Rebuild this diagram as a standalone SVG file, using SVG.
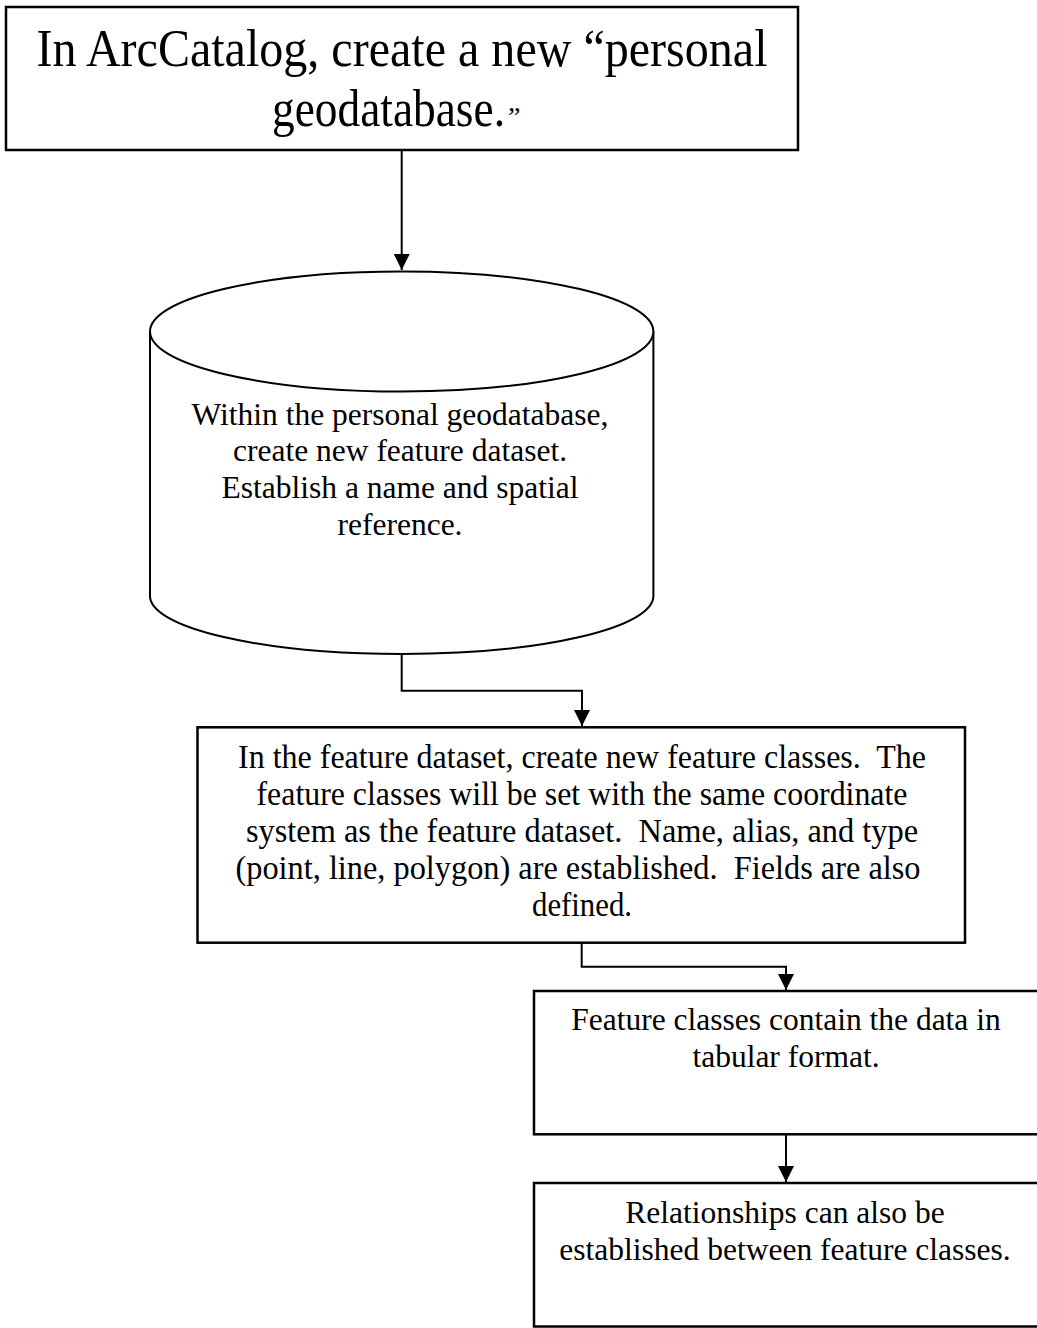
<svg xmlns="http://www.w3.org/2000/svg" width="1037" height="1328" viewBox="0 0 1037 1328">
<style>
.box{fill:#fff;stroke:#000;stroke-width:2.5}
.cyl{fill:#fff;stroke:#000;stroke-width:2}
.conn{fill:none;stroke:#000;stroke-width:2}
text{font-family:"Liberation Serif","Times New Roman",serif;fill:#000;text-anchor:middle;white-space:pre}
.big{font-size:52px}
.t{font-size:31.5px}
.c{font-size:33px}
.s{text-anchor:start}
</style>
<defs>
<marker id="ah" markerUnits="userSpaceOnUse" markerWidth="18" markerHeight="16" refX="16" refY="8" orient="auto">
<path d="M0,0 L16,8 L0,16 Z" fill="#000"/>
</marker>
</defs>
<rect width="1037" height="1328" fill="#fff"/>
<g id="connectors">
<path class="conn" d="M401.7,150 V270" marker-end="url(#ah)"/>
<path class="conn" d="M401.7,654 V690.7 H582 V726" marker-end="url(#ah)"/>
<path class="conn" d="M581.7,943 V966.7 H786 V990" marker-end="url(#ah)"/>
<path class="conn" d="M786,1134 V1182" marker-end="url(#ah)"/>
</g>
<g id="node-create-gdb">
<rect class="box" x="6" y="7" width="792" height="143"/>
<text class="big" x="402" y="66" textLength="731" lengthAdjust="spacingAndGlyphs">In ArcCatalog, create a new “personal</text>
<text class="big s" x="272" y="126" textLength="233" lengthAdjust="spacingAndGlyphs">geodatabase.</text>
<text class="s" x="508" y="126" font-size="28">”</text>
</g>
<g id="node-feature-dataset">
<path class="cyl" d="M150,331.5 V596 A251.7,58 0 0 0 653.4,596 V331.5"/>
<ellipse class="cyl" cx="401.7" cy="331.5" rx="251.7" ry="60"/>
<text class="t" x="400" y="425">Within the personal geodatabase,</text>
<text class="t" x="400" y="461">create new feature dataset.</text>
<text class="t" x="400" y="498">Establish a name and spatial</text>
<text class="t" x="400" y="535">reference.</text>
</g>
<g id="node-feature-classes">
<rect class="box" x="197.5" y="727.3" width="767.5" height="215.4"/>
<text class="c" x="582" y="768" textLength="688" lengthAdjust="spacingAndGlyphs">In the feature dataset, create new feature classes.  The</text>
<text class="c" x="582" y="805" textLength="651" lengthAdjust="spacingAndGlyphs">feature classes will be set with the same coordinate</text>
<text class="c" x="582" y="842" textLength="672" lengthAdjust="spacingAndGlyphs">system as the feature dataset.  Name, alias, and type</text>
<text class="c" x="578" y="879" textLength="685" lengthAdjust="spacingAndGlyphs">(point, line, polygon) are established.  Fields are also</text>
<text class="c" x="582" y="916" textLength="100" lengthAdjust="spacingAndGlyphs">defined.</text>
</g>
<g id="node-tabular">
<rect class="box" x="534" y="991" width="520" height="143.3"/>
<text class="t" x="786" y="1030">Feature classes contain the data in</text>
<text class="t" x="786" y="1067">tabular format.</text>
</g>
<g id="node-relationships">
<rect class="box" x="534" y="1183" width="520" height="143.5"/>
<text class="t" x="785" y="1223">Relationships can also be</text>
<text class="t" x="785" y="1260">established between feature classes.</text>
</g>
</svg>
